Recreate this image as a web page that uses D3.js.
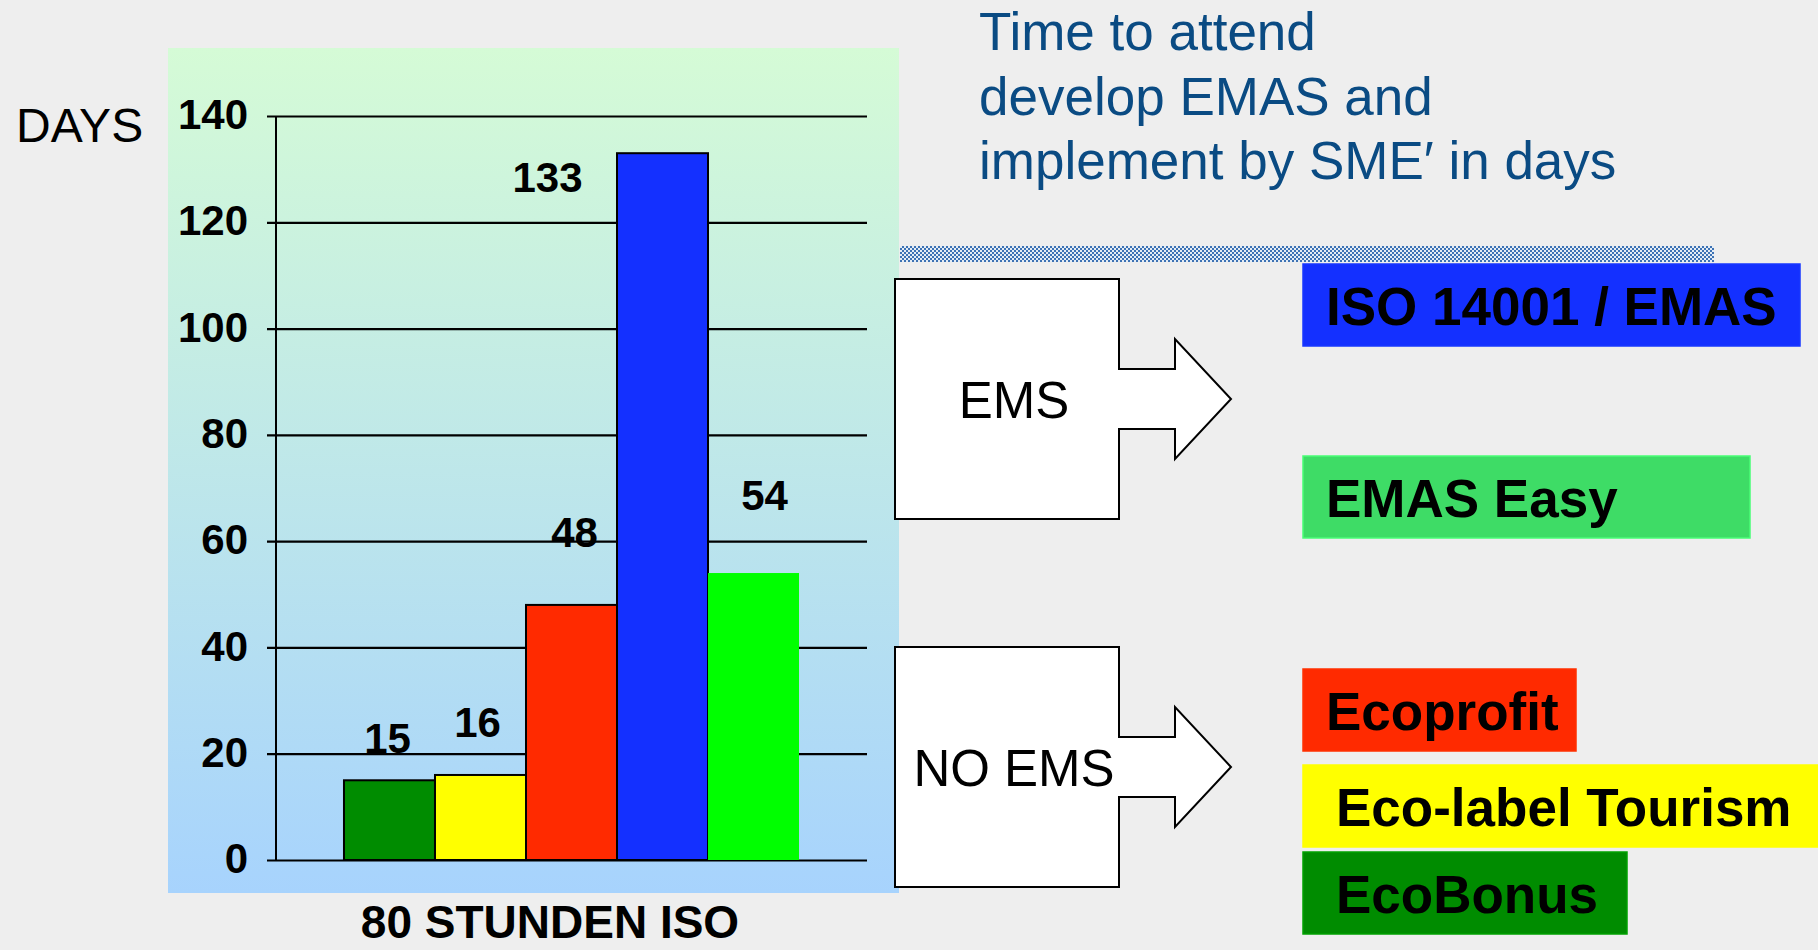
<!DOCTYPE html>
<html><head><meta charset="utf-8">
<script src="https://cdn.jsdelivr.net/npm/d3@7"></script>
<style>
html,body{margin:0;padding:0;background:#eeeeee;}
svg{display:block;font-family:"Liberation Sans",Arial,sans-serif;}
</style></head>
<body>
<svg id="c" width="1818" height="950"></svg>
<script>
// ---- data ----
const categories = ["EcoBonus","Eco-label Tourism","Ecoprofit","ISO 14001 / EMAS","EMAS Easy"];
const values = [15, 16, 48, 133, 54];
const barColors = ["#008c00","#ffff00","#ff2a00","#1430ff","#00ff00"];
const yTicks = [0, 20, 40, 60, 80, 100, 120, 140];
const xLabel = "80 STUNDEN ISO";
const yLabel = "DAYS";
const titleLines = ["Time to attend","develop EMAS and","implement by SME\u2032 in days"];
const legendItems = ["ISO 14001 / EMAS","EMAS Easy","Ecoprofit","Eco-label Tourism","EcoBonus"];
const legendColors = ["#1430ff","#3edc66","#ff2a00","#ffff00","#008c00"];
const arrowLabels = ["EMS","NO EMS"];

// ---- layout (not data) ----
const labelShift = [[-2,-27],[-3,-38],[3,-58],[-115,39],[11,-63]]; // value label dx, dy from bar top centre
const legendBoxes = [[1303,264,497],[1303,456,447],[1303,669,273],[1303,765,520],[1303,852,324]];
const legendTextX = [1326,1326,1326,1336,1336];

const svg = d3.select("#c");
const defs = svg.append("defs");
const grad = defs.append("linearGradient").attr("id","bg").attr("x1",0).attr("y1",0).attr("x2",0).attr("y2",1);
grad.append("stop").attr("offset","0%").attr("stop-color","#d5fbd6");
grad.append("stop").attr("offset","100%").attr("stop-color","#a7d3fd");
const pat = defs.append("pattern").attr("id","hatch").attr("width",4).attr("height",4).attr("patternUnits","userSpaceOnUse");
pat.append("rect").attr("width",4).attr("height",4).attr("fill","#e4ecf4");
pat.append("rect").attr("width",2).attr("height",2).attr("fill","#3d72b4");
pat.append("rect").attr("x",2).attr("y",2).attr("width",2).attr("height",2).attr("fill","#3d72b4");

// panel
svg.append("rect").attr("x",168).attr("y",48).attr("width",731).attr("height",845).attr("fill","url(#bg)");

const y = d3.scaleLinear().domain([0,140]).range([860,116]);
const x = d3.scaleBand().domain(categories).range([276,867]).paddingInner(0).paddingOuter(0.747);

// gridlines + tick labels
const axis = d3.axisLeft(y).tickValues(yTicks).tickSize(-600).tickPadding(19).tickFormat(d3.format("d"));
const gA = svg.append("g").attr("transform","translate(267,0)").call(axis);
gA.select(".domain").remove();
gA.selectAll(".tick line").attr("stroke","#000").attr("stroke-width",2.2);
gA.selectAll(".tick text").attr("fill","#000").style("font-size","42px").style("font-weight","bold")
  .style("font-family",'"Liberation Sans",Arial,sans-serif').attr("dy","0.3em");
// y axis line
svg.append("line").attr("x1",276).attr("x2",276).attr("y1",y(140)).attr("y2",y(0)).attr("stroke","#000").attr("stroke-width",2);

// bars
svg.selectAll("rect.bar").data(values).enter().append("rect").attr("class","bar")
  .attr("x",(d,i)=>x(categories[i]))
  .attr("y",d=>y(d))
  .attr("width",x.bandwidth())
  .attr("height",d=>y(0)-y(d))
  .attr("fill",(d,i)=>barColors[i])
  .attr("stroke",(d,i)=>i===4?"none":"#000")
  .attr("stroke-width",2);

// value labels
svg.selectAll("text.val").data(values).enter().append("text").attr("class","val")
  .attr("x",(d,i)=>x(categories[i])+x.bandwidth()/2+labelShift[i][0])
  .attr("y",(d,i)=>y(d)+labelShift[i][1])
  .attr("text-anchor","middle").style("font-size","42px").style("font-weight","bold").text(d=>d);

// axis labels
svg.append("text").attr("x",16).attr("y",142).style("font-size","48px").attr("fill","#000").text(yLabel);
svg.append("text").attr("x",550).attr("y",938).attr("text-anchor","middle").style("font-size","46px").style("font-weight","bold").text(xLabel);

// title
svg.selectAll("text.title").data(titleLines).enter().append("text").attr("class","title")
  .attr("x",979).attr("y",(d,i)=>50+i*64.5).attr("fill","#0a4b83").style("font-size","53px").text(d=>d);

// hatched band
svg.append("rect").attr("x",900).attr("y",246).attr("width",814).attr("height",16).attr("fill","url(#hatch)");

// arrows
function arrowPath(x0,y0){
  const w=224,h=240,mid=h/2,nb=30,hb=60,hx=56,tip=112;
  const p=d3.path();
  p.moveTo(x0,y0); p.lineTo(x0+w,y0); p.lineTo(x0+w,y0+mid-nb); p.lineTo(x0+w+hx,y0+mid-nb);
  p.lineTo(x0+w+hx,y0+mid-hb); p.lineTo(x0+w+tip,y0+mid); p.lineTo(x0+w+hx,y0+mid+hb);
  p.lineTo(x0+w+hx,y0+mid+nb); p.lineTo(x0+w,y0+mid+nb); p.lineTo(x0+w,y0+h); p.lineTo(x0,y0+h); p.closePath();
  return p.toString();
}
const arrowPos=[[895,279],[895,647]];
arrowPos.forEach((a,i)=>{
  svg.append("path").attr("d",arrowPath(a[0],a[1])).attr("fill","#fff").attr("stroke","#000").attr("stroke-width",2);
  svg.append("text").attr("x",1014).attr("y",a[1]+139).attr("text-anchor","middle").style("font-size","51px").text(arrowLabels[i]);
});

// legend boxes
legendItems.forEach((t,i)=>{
  const b=legendBoxes[i];
  svg.append("rect").attr("x",b[0]).attr("y",b[1]).attr("width",b[2]).attr("height",82).attr("fill",legendColors[i])
    .attr("stroke",d3.color(legendColors[i]).brighter(0.4)).attr("stroke-width",1.5);
  svg.append("text").attr("x",legendTextX[i]).attr("y",b[1]+61).style("font-size","53px").style("font-weight","bold").attr("fill","#000").text(t);
});
</script>
</body></html>
